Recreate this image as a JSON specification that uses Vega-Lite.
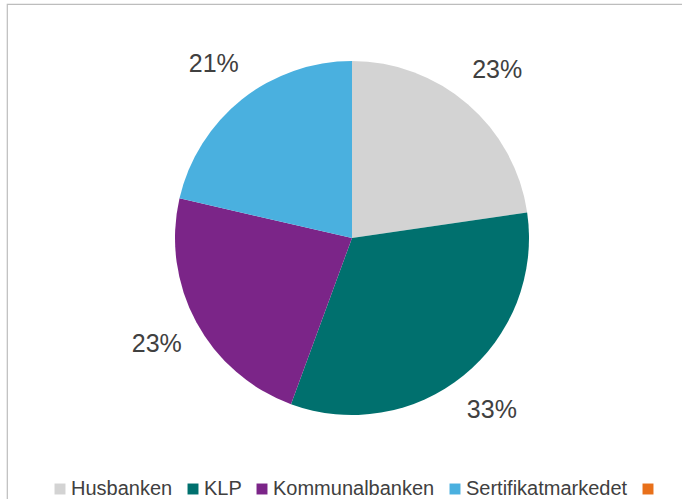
{
  "$schema": "https://vega.github.io/schema/vega-lite/v6.json",
  "autosize": {"type": "none"},
  "padding": {"left": 7, "top": 4, "right": 0, "bottom": 0},
  "width": 690,
  "height": 500,
  "background": "white",
  "view": {"stroke": "#bdbdbd", "strokeWidth": 1.2, "fill": "white"},
  "config": {
    "font": "Liberation Sans"
  },
  "data": {
    "values": [
      {"kilde": "Husbanken", "andel": 22.7, "etikett": "23%", "rekkefolge": 1},
      {"kilde": "KLP", "andel": 32.9, "etikett": "33%", "rekkefolge": 2},
      {"kilde": "Kommunalbanken", "andel": 23.0, "etikett": "23%", "rekkefolge": 3},
      {"kilde": "Sertifikatmarkedet", "andel": 21.4, "etikett": "21%", "rekkefolge": 4},
      {"kilde": " ", "andel": 0, "etikett": "", "rekkefolge": 5}
    ]
  },
  "encoding": {
    "theta": {"field": "andel", "type": "quantitative", "stack": true},
    "order": {"field": "rekkefolge", "type": "quantitative"}
  },
  "layer": [
    {
      "mark": {"type": "arc", "outerRadius": 177, "yOffset": -16},
      "encoding": {
        "color": {
          "field": "kilde",
          "type": "nominal",
          "sort": ["Husbanken", "KLP", "Kommunalbanken", "Sertifikatmarkedet", " "],
          "scale": {
            "domain": ["Husbanken", "KLP", "Kommunalbanken", "Sertifikatmarkedet", " "],
            "range": ["#D3D3D3", "#00706E", "#7B2588", "#4AB0DF", "#E8701A"]
          },
          "legend": {
            "title": null,
            "orient": "none",
            "direction": "horizontal",
            "legendX": 43,
            "legendY": 475,
            "symbolType": "square",
            "symbolSize": 120,
            "symbolStrokeWidth": 0,
            "symbolOpacity": 1,
            "labelFontSize": 20,
            "labelColor": "#404040",
            "labelFont": "Liberation Sans",
            "labelOffset": 1,
            "columnPadding": 10,
            "labelLimit": 400
          }
        }
      }
    },
    {
      "mark": {"type": "text", "radius": 222, "yOffset": -16, "fontSize": 25, "color": "#404040", "font": "Liberation Sans"},
      "encoding": {
        "text": {"field": "etikett", "type": "nominal"}
      }
    }
  ]
}
